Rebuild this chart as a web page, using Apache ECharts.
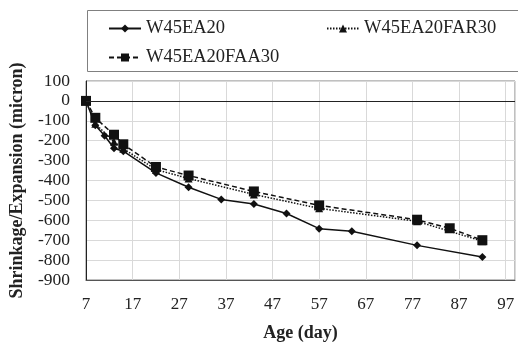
<!DOCTYPE html>
<html><head><meta charset="utf-8">
<script src="https://cdn.jsdelivr.net/npm/echarts@6/dist/echarts.min.js"></script>
<style>html,body{margin:0;padding:0;background:#fff}#c{width:518px;height:347px}</style>
</head><body><div id="c"></div>
<script>
var seriesNames = ['W45EA20', 'W45EA20FAR30', 'W45EA20FAA30'];
var daysEA = [7, 9, 11, 13, 15, 22, 29, 36, 43, 50, 57, 64, 78, 92];
var valsEA = [0, -122, -175, -238, -253, -362, -434, -495, -518, -566, -642, -655, -726, -784];
var daysFAR = [7, 9, 13, 15, 22, 29, 43, 57, 78, 92];
var valsFAR = [0, -115, -205, -240, -345, -390, -470, -540, -605, -705];
var daysFAA = [7, 9, 13, 15, 22, 29, 43, 57, 78, 85, 92];
var valsFAA = [0, -85, -170, -218, -332, -375, -455, -525, -597, -640, -700];
var xTicks = [7, 17, 27, 37, 47, 57, 67, 77, 87, 97];
var yTicks = [-900, -800, -700, -600, -500, -400, -300, -200, -100, 0, 100];

function pairs(d, v) { return d.map(function (x, i) { return [x, v[i]]; }); }
var F = 'Liberation Serif';
var legText = { fontFamily: F, fontSize: 18.5, color: '#222' };
var chart = echarts.init(document.getElementById('c'));
chart.setOption({
  animation: false,
  textStyle: { fontFamily: F },
  grid: { left: 86, right: 0, top: 81, bottom: 64, show: true, borderColor: '#808080', borderWidth: 1 },
  graphic: [{ type: 'rect', shape: { x: 87.5, y: 10.5, width: 440, height: 61 }, style: { fill: 'none', stroke: '#808080', lineWidth: 1 } }],
  legend: [
    { data: [seriesNames[0]], left: 103, top: 14, itemWidth: 32, itemHeight: 10, textStyle: legText },
    { data: [seriesNames[1]], left: 321, top: 14, itemWidth: 32, itemHeight: 10, textStyle: legText },
    { data: [seriesNames[2]], left: 103, top: 43, itemWidth: 32, itemHeight: 10, textStyle: legText }
  ],
  xAxis: {
    type: 'value', min: 7, max: 99, interval: 10,
    name: 'Age (day)', nameLocation: 'middle', nameGap: 44,
    nameTextStyle: { fontFamily: F, fontSize: 18, fontWeight: 'bold', color: '#222' },
    axisLine: { onZero: false, lineStyle: { color: '#555' } },
    axisTick: { show: false },
    axisLabel: { margin: 16, fontFamily: F, fontSize: 17, color: '#222',
      formatter: function (v) { return xTicks.indexOf(v) >= 0 ? String(v) : ''; } },
    splitLine: { show: true, lineStyle: { color: '#d9d9d9' } }
  },
  yAxis: {
    type: 'value', min: -900, max: 100, interval: 100,
    name: 'Shrinkage/Expansion (micron)', nameLocation: 'middle', nameGap: 60,
    nameTextStyle: { fontFamily: F, fontSize: 18, fontWeight: 'bold', color: '#222' },
    axisLine: { show: true, lineStyle: { color: '#222' } },
    axisTick: { show: false },
    axisLabel: { margin: 16, fontFamily: F, fontSize: 17.5, color: '#222',
      formatter: function (v) { return yTicks.indexOf(v) >= 0 ? String(v) : ''; } },
    splitLine: { show: true, lineStyle: { color: '#d9d9d9' } }
  },
  series: [
    { name: seriesNames[0], type: 'line', data: pairs(daysEA, valsEA), symbol: 'diamond', symbolSize: 8,
      itemStyle: { color: '#111' }, lineStyle: { color: '#111', width: 1.5, type: 'solid' },
      markLine: { silent: true, symbol: 'none', label: { show: false }, lineStyle: { color: '#222', width: 1, type: 'solid' }, data: [{ yAxis: 0 }] } },
    { name: seriesNames[1], type: 'line', data: pairs(daysFAR, valsFAR), symbol: 'triangle', symbolSize: 8,
      itemStyle: { color: '#111' }, lineStyle: { color: '#111', width: 1.5, type: [1.5, 1.5] } },
    { name: seriesNames[2], type: 'line', data: pairs(daysFAA, valsFAA), symbol: 'rect', symbolSize: 10,
      itemStyle: { color: '#111' }, lineStyle: { color: '#111', width: 1.5, type: [5, 3] } }
  ]
});
</script></body></html>
